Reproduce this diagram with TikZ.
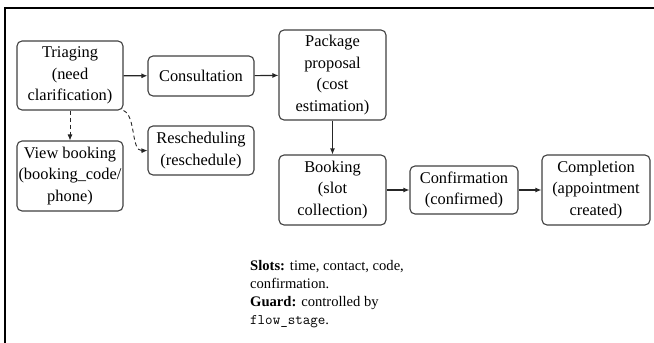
\documentclass[tikz,border=0pt]{standalone}
\usepackage{fontspec}
\setmainfont{Liberation Serif}
\usetikzlibrary{arrows.meta}
\begin{document}
\begin{tikzpicture}[x=1pt,y=-1pt,
  box/.style={draw=black!75, line width=1.1pt, rounded corners=5pt, fill=white,
    align=center, inner sep=0pt, font=\fontsize{16.4}{21.5}\selectfont},
  flow/.style={-{Latex[length=6pt,width=5pt]}, line width=1.1pt, black!85},
  opt/.style={flow, line width=0.9pt, dashed, dash pattern=on 4pt off 3pt}]
  \useasboundingbox (0,0) rectangle (654,343);
  % frame
  \draw[line width=2.5pt, black] (5,343) -- (5,8) -- (654,8);

  % states
  \node[box, minimum width=106pt, minimum height=69pt] (tri) at (70,75.5)
    {Triaging\\(need\\clarification)};
  \node[box, minimum width=106pt, minimum height=40pt] (cons) at (201,76)
    {Consultation};
  \node[box, minimum width=107pt, minimum height=90pt] (pkg) at (332.5,75)
    {Package\\proposal\\(cost\\estimation)};
  \node[box, minimum width=106pt, minimum height=70pt] (view) at (70,176)
    {View booking\\(booking\_code/\\phone)};
  \node[box, minimum width=106pt, minimum height=49pt] (resch) at (201,150.5)
    {Rescheduling\\(reschedule)};
  \node[box, minimum width=107pt, minimum height=70pt] (book) at (332.5,190)
    {Booking\\(slot\\collection)};
  \node[box, minimum width=108pt, minimum height=48pt] (conf) at (464,190)
    {Confirmation\\(confirmed)};
  \node[box, minimum width=108pt, minimum height=70pt] (done) at (596,190)
    {Completion\\(appointment\\created)};

  % transitions
  \draw[flow] (tri) -- (cons);
  \draw[flow] (cons) -- (pkg);
  \draw[flow] (pkg) -- (book);
  \draw[flow] (book) -- (conf);
  \draw[flow] (conf) -- (done);
  \draw[opt] (tri) -- (view);
  \draw[opt] (tri.south east) .. controls (136,116) and (131,151) .. (resch.west);

  % notes
  \node[anchor=north west, align=left, inner sep=0pt,
    font=\fontsize{14.6}{18}\selectfont] (notes) at (250,260)
    {\textbf{Slots:} time, contact, code,\\confirmation.\\
     \textbf{Guard:} controlled by\\\texttt{flow\_stage}.};
\end{tikzpicture}
\end{document}
